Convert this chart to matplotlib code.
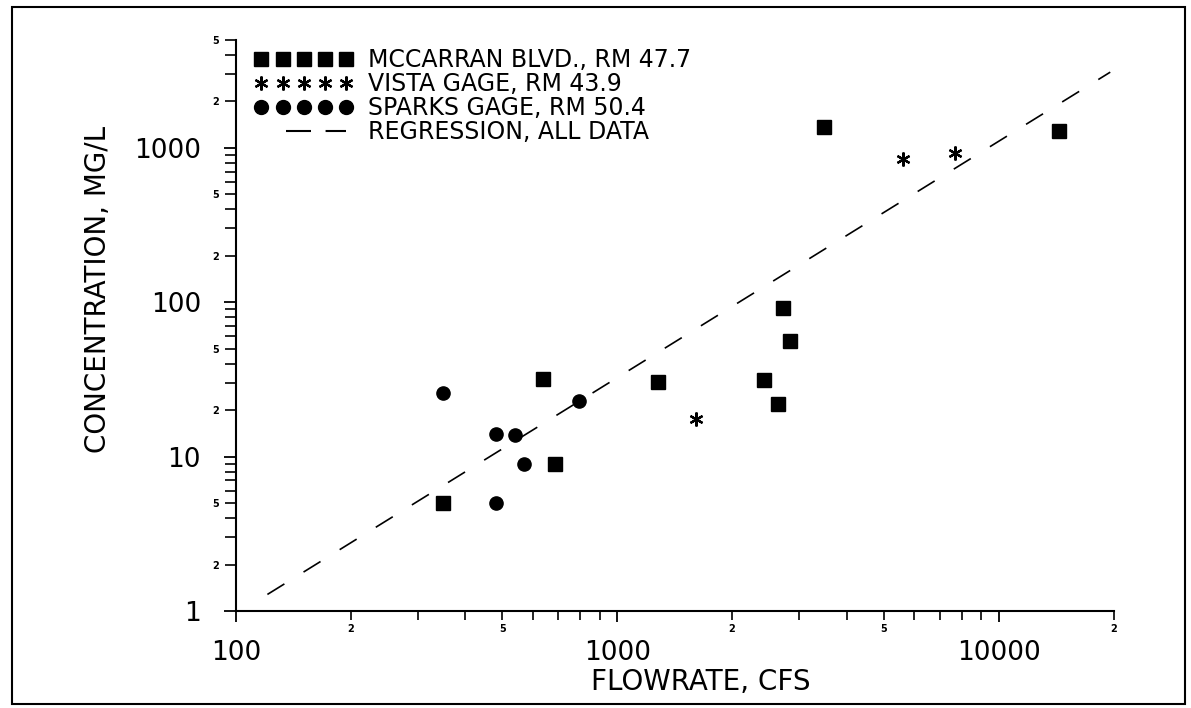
import matplotlib
matplotlib.use("Agg")
import matplotlib.pyplot as plt
import matplotlib.ticker as ticker
from matplotlib.lines import Line2D
from matplotlib.patches import Rectangle

## dane
mcc_x = [350, 640, 685, 1275, 2430, 2640, 2720, 2830, 3480, 14400]
mcc_y = [5.0, 31.6, 8.9, 30.3, 31.3, 21.8, 91, 56, 1350, 1280]

vista_x = [1610, 5600, 7700]
vista_y = [17.5, 840, 920]

sparks_x = [350, 480, 538, 568, 480, 795]
sparks_y = [25.7, 13.9, 13.8, 8.9, 5.0, 22.9]

reg_x = [121, 19600]
reg_y = [1.28, 3080]

labels = ["MCCARRAN BLVD., RM 47.7", "VISTA GAGE, RM 43.9",
          "SPARKS GAGE, RM 50.4", "REGRESSION, ALL DATA"]

plt.rcParams['font.family'] = ['DejaVu Sans']

fig = plt.figure(figsize=(11.91, 7.08), dpi=100)
ax = fig.add_axes([0.198, 0.137, 0.737, 0.807])

# ramka dookola calego rysunku
fig.patches.append(Rectangle((0.010, 0.006), 0.985, 0.984, transform=fig.transFigure,
                             fill=False, edgecolor='black', linewidth=1.5))

asterisk = (6, 2, 0)
dash = (0, (12, 13.5))

ax.plot(reg_x, reg_y, color='black', lw=1.2, linestyle=dash)
ax.plot(mcc_x, mcc_y, 's', color='black', ms=10, ls='none')
ax.plot(vista_x, vista_y, marker=asterisk, color='black', ms=10, mew=1.6, ls='none')
ax.plot(sparks_x, sparks_y, 'o', color='black', ms=9.5, ls='none')

ax.set_xscale('log')
ax.set_yscale('log')
ax.set_xlim(100, 20000)
ax.set_ylim(1, 5000)

for side in ['top', 'right']:
    ax.spines[side].set_visible(False)
for side in ['left', 'bottom']:
    ax.spines[side].set_linewidth(1.5)

# podzialka
def minor_fmt(v, pos):
    m = round(v / 10 ** int(f"{v:e}".split('e')[1]))
    return str(m) if m in (2, 5) else ''

for axis in [ax.xaxis, ax.yaxis]:
    axis.set_major_locator(ticker.LogLocator(base=10, numticks=10))
    axis.set_minor_locator(ticker.LogLocator(base=10, subs=range(2, 10), numticks=20))
    axis.set_major_formatter(ticker.FuncFormatter(lambda v, p: f"{v:.0f}"))
    axis.set_minor_formatter(ticker.FuncFormatter(minor_fmt))

ax.tick_params(axis='x', which='major', direction='out', length=8, width=1.3, pad=13, labelsize=19)
ax.tick_params(axis='x', which='minor', direction='out', length=6.5, width=1.2, pad=3, labelsize=7)
ax.tick_params(axis='y', which='major', direction='out', length=9, width=1.3, pad=16, labelsize=19)
ax.tick_params(axis='y', which='minor', direction='out', length=8, width=1.2, pad=4, labelsize=7)
for t in ax.xaxis.get_minorticklabels() + ax.yaxis.get_minorticklabels():
    t.set_fontweight('bold')

ax.set_xlabel('FLOWRATE, CFS', fontsize=20)
ax.xaxis.set_label_coords(0.53, -0.1)
ax.set_ylabel('CONCENTRATION, MG/L', fontsize=20)
ax.yaxis.set_label_coords(-0.141, 0.562)

# legenda
handles = [
    Line2D([], [], marker='s', color='black', ms=10, ls='none'),
    Line2D([], [], marker=asterisk, color='black', ms=10, mew=1.6, ls='none'),
    Line2D([], [], marker='o', color='black', ms=10, ls='none'),
    Line2D([], [], color='black', lw=1.5, linestyle=(31.0, (12, 7.0, 12, 12))),
]
leg = ax.legend(handles, labels, loc='upper left', bbox_to_anchor=(0.005, 1.01),
                frameon=False, numpoints=5, handlelength=4.2, handletextpad=0.6,
                labelspacing=0.0, fontsize=17, borderaxespad=0.2)

fig.savefig('out.png', dpi=100)
